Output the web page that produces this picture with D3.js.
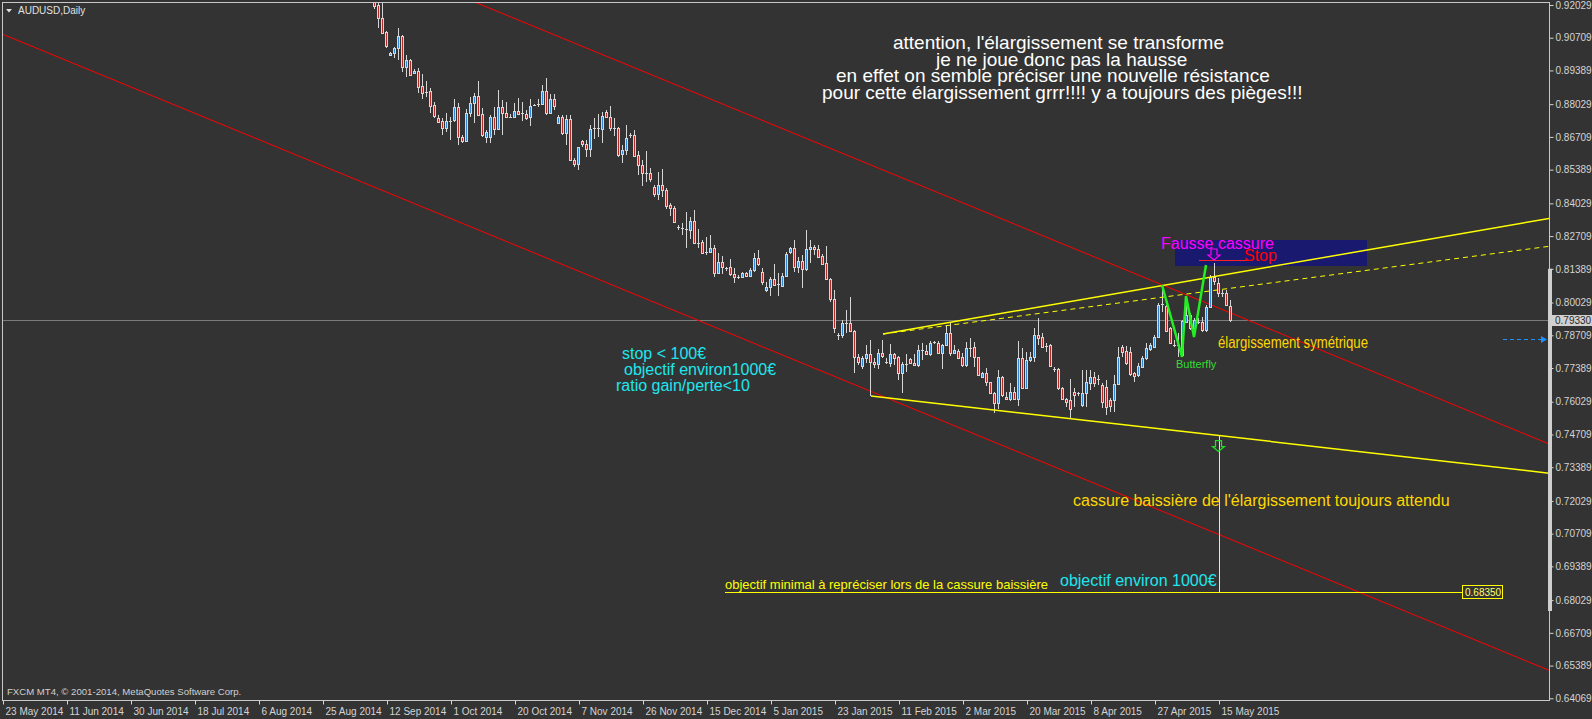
<!DOCTYPE html>
<html><head><meta charset="utf-8">
<script src="https://cdn.jsdelivr.net/npm/d3@7/dist/d3.min.js"></script>
<style>
html,body{margin:0;padding:0;background:#333333;overflow:hidden;}
svg{display:block;}
</style></head>
<body>
<svg id="chart" width="1592" height="719"></svg>
<script>
// ---------------- data ----------------
const symbolTitle = "AUDUSD,Daily";
const copyright = "FXCM MT4, \u00a9 2001-2014, MetaQuotes Software Corp.";
const firstBar = 93; // bar number of the first candle in the arrays (bar 0 = 23 May 2014)

const open = [.9215,.9203,.9151,.9094,.9001,.9009,.9029,.9078,.8953,.8981,
.8929,.8937,.8876,.8854,.8856,.8800,.8747,.8735,.8707,.8735,
.8739,.8792,.8671,.8655,.8767,.8808,.8836,.8763,.8671,.8671,
.8751,.8703,.8792,.8767,.8753,.8751,.8775,.8763,.8765,.8751,
.8796,.8802,.8804,.8856,.8767,.8824,.8727,.8751,.8687,.8743,
.8578,.8562,.8655,.8643,.8622,.8705,.8707,.8703,.8771,.8751,
.8707,.8707,.8602,.8618,.8679,.8679,.8598,.8558,.8527,.8525,
.8469,.8441,.8477,.8457,.8396,.8384,.8306,.8305,.8300,.8296,
.8332,.8243,.8247,.8207,.8207,.8223,.8122,.8167,.8144,.8146,
.8118,.8106,.8106,.8122,.8110,.8134,.8183,.8126,.8054,.8066,
.8098,.8078,.8070,.8110,.8207,.8223,.8146,.8171,.8138,.8219,
.8227,.8219,.8191,.8163,.8098,.8017,.7872,.7872,.7920,.7920,
.7890,.7783,.7747,.7779,.7795,.7763,.7755,.7799,.7765,.7760,
.7795,.7783,.7719,.7755,.7775,.7759,.7751,.7812,.7808,.7795,
.7844,.7840,.7799,.7832,.7880,.7799,.7808,.7783,.7751,.7820,
.7824,.7783,.7703,.7719,.7683,.7638,.7598,.7703,.7622,.7614,
.7642,.7614,.7779,.7658,.7771,.7783,.7872,.7864,.7828,.7832,
.7735,.7735,.7658,.7614,.7610,.7642,.7638,.7590,.7638,.7679,
.7703,.7691,.7670,.7662,.7610,.7610,.7675,.7824,.7808,.7803,
.7719,.7711,.7743,.7779,.7816,.7824,.7864,.7993,.7989,.7900,
.7832,.7832,.7791,.7925,.7953,.7900,.7925,.7925,.7892,.7985,
.8106,.8082,.8041,.8041,.7989];
const high = [.9240,.9215,.9211,.9098,.9013,.9033,.9110,.9082,.9001,.8985,
.8945,.8949,.8925,.8896,.8868,.8812,.8759,.8747,.8767,.8751,
.8824,.8808,.8679,.8784,.8832,.8848,.8896,.8788,.8699,.8759,
.8792,.8860,.8820,.8812,.8763,.8808,.8828,.8812,.8780,.8824,
.8804,.8824,.8880,.8908,.8844,.8844,.8759,.8759,.8759,.8759,
.8586,.8631,.8659,.8659,.8719,.8747,.8763,.8771,.8780,.8796,
.8747,.8711,.8638,.8719,.8687,.8699,.8614,.8578,.8614,.8545,
.8477,.8529,.8541,.8465,.8404,.8392,.8316,.8324,.8368,.8348,
.8376,.8300,.8255,.8267,.8275,.8235,.8203,.8191,.8146,.8179,
.8142,.8114,.8126,.8126,.8142,.8203,.8215,.8142,.8086,.8106,
.8159,.8122,.8122,.8207,.8227,.8255,.8187,.8195,.8296,.8255,
.8235,.8235,.8199,.8231,.8102,.8054,.7880,.7933,.7973,.8025,
.7892,.7795,.7787,.7832,.7852,.7779,.7816,.7852,.7779,.7836,
.7799,.7787,.7763,.7795,.7779,.7795,.7832,.7840,.7832,.7848,
.7848,.7848,.7836,.7913,.7921,.7832,.7816,.7799,.7844,.7860,
.7844,.7783,.7723,.7739,.7683,.7642,.7731,.7707,.7642,.7679,
.7662,.7848,.7820,.7803,.7803,.7900,.7941,.7880,.7840,.7836,
.7743,.7739,.7662,.7618,.7695,.7658,.7642,.7731,.7731,.7731,
.7723,.7711,.7679,.7691,.7618,.7711,.7824,.7832,.7828,.7824,
.7723,.7759,.7787,.7840,.7840,.7872,.8001,.8074,.7993,.7904,
.7852,.7880,.7933,.8029,.7961,.7941,.7941,.7945,.7993,.8114,
.8163,.8102,.8054,.8054,.8013];
const low = [.9187,.9110,.9086,.9029,.8997,.8989,.8981,.8933,.8913,.8917,
.8925,.8848,.8824,.8832,.8767,.8747,.8727,.8679,.8691,.8659,
.8731,.8638,.8647,.8655,.8751,.8727,.8759,.8671,.8647,.8647,
.8679,.8699,.8679,.8747,.8747,.8747,.8759,.8735,.8739,.8715,
.8796,.8792,.8800,.8759,.8763,.8780,.8723,.8679,.8638,.8574,
.8550,.8537,.8631,.8590,.8590,.8663,.8671,.8647,.8747,.8695,
.8675,.8590,.8566,.8598,.8667,.8590,.8517,.8473,.8489,.8489,
.8429,.8417,.8429,.8380,.8352,.8324,.8296,.8276,.8223,.8259,
.8239,.8223,.8203,.8195,.8203,.8106,.8122,.8118,.8130,.8110,
.8082,.8098,.8106,.8106,.8106,.8126,.8150,.8074,.8046,.8029,
.8070,.8029,.8066,.8106,.8199,.8126,.8122,.8062,.8130,.8163,
.8195,.8187,.8155,.8094,.8005,.7880,.7852,.7860,.7880,.7884,
.7719,.7751,.7735,.7759,.7626,.7739,.7735,.7779,.7755,.7743,
.7751,.7691,.7638,.7723,.7759,.7747,.7743,.7771,.7791,.7787,
.7836,.7795,.7735,.7828,.7787,.7799,.7779,.7743,.7743,.7783,
.7743,.7707,.7699,.7666,.7638,.7557,.7574,.7622,.7610,.7606,
.7610,.7586,.7654,.7654,.7763,.7763,.7832,.7820,.7803,.7743,
.7723,.7650,.7610,.7582,.7533,.7582,.7626,.7582,.7582,.7650,
.7662,.7670,.7578,.7549,.7562,.7562,.7670,.7783,.7751,.7707,
.7683,.7703,.7739,.7771,.7808,.7820,.7860,.7965,.7884,.7836,
.7824,.7783,.7783,.7921,.7892,.7864,.7917,.7884,.7884,.7985,
.8074,.8025,.8025,.7989,.7925];
const close = [.9199,.9151,.9090,.9038,.9009,.9029,.9078,.8953,.8981,.8921,
.8937,.8872,.8848,.8852,.8796,.8755,.8731,.8707,.8735,.8737,
.8792,.8671,.8655,.8767,.8808,.8836,.8759,.8679,.8691,.8751,
.8703,.8792,.8767,.8751,.8751,.8775,.8763,.8767,.8749,.8796,
.8800,.8801,.8856,.8767,.8824,.8796,.8751,.8687,.8743,.8578,
.8562,.8631,.8643,.8622,.8703,.8707,.8705,.8755,.8751,.8707,
.8705,.8598,.8618,.8667,.8677,.8594,.8558,.8525,.8525,.8501,
.8441,.8477,.8457,.8392,.8384,.8328,.8305,.8300,.8298,.8332,
.8243,.8245,.8203,.8205,.8223,.8122,.8167,.8146,.8142,.8118,
.8106,.8102,.8122,.8110,.8134,.8183,.8159,.8086,.8066,.8098,
.8074,.8077,.8110,.8199,.8223,.8146,.8171,.8138,.8219,.8227,
.8219,.8187,.8159,.8098,.8017,.7900,.7870,.7920,.7918,.7888,
.7783,.7763,.7779,.7795,.7763,.7755,.7799,.7787,.7763,.7795,
.7779,.7719,.7755,.7753,.7759,.7751,.7812,.7810,.7795,.7840,
.7843,.7799,.7832,.7880,.7799,.7812,.7779,.7751,.7820,.7818,
.7783,.7711,.7719,.7683,.7638,.7598,.7703,.7630,.7614,.7642,
.7614,.7779,.7658,.7771,.7783,.7872,.7860,.7824,.7826,.7747,
.7733,.7658,.7614,.7602,.7574,.7630,.7636,.7638,.7683,.7703,
.7679,.7695,.7602,.7582,.7586,.7675,.7783,.7803,.7759,.7715,
.7707,.7747,.7779,.7820,.7832,.7864,.7993,.7997,.7890,.7840,
.7830,.7828,.7929,.7953,.7900,.7933,.7923,.7892,.7985,.8106,
.8090,.8041,.8037,.7993,.7933];

const dateTickBars = [0,16,32,48,64,80,96,112,128,144,160,176,192,208,224,240,256,272,288,304];
const dateTickLabels = ["23 May 2014","11 Jun 2014","30 Jun 2014","18 Jul 2014","6 Aug 2014",
"25 Aug 2014","12 Sep 2014","1 Oct 2014","20 Oct 2014","7 Nov 2014","26 Nov 2014",
"15 Dec 2014","5 Jan 2015","23 Jan 2015","11 Feb 2015","2 Mar 2015","20 Mar 2015",
"8 Apr 2015","27 Apr 2015","15 May 2015"];
const priceTicks = [0.92029,0.90709,0.89389,0.88029,0.86709,0.85389,0.84029,0.82709,0.81389,
0.80029,0.78709,0.77389,0.76029,0.74709,0.73389,0.72029,0.70709,0.69389,0.68029,0.66709,0.65389,0.64069];
const lastPrice = 0.79330;

// drawn objects, as [bar, price] anchors
const channelUpper = [[118, 0.92142],[386, 0.74361]];
const channelLower = [[0, 0.90844],[386, 0.65231]];
const wedgeUpper = [[220, 0.78761],[386, 0.83407]];
const wedgeUpperDashed = [[220, 0.78761],[386, 0.82286]];
const wedgeLower = [[217, 0.76261],[386, 0.73159]];
const butterflyPts = [[289.75,0.80737],[294.75,0.77834],[295.75,0.80294],[297.75,0.78640],[300.75,0.81544]];
const targetPrice = 0.68350;
const targetBar = 304;
const targetLineBars = [180.5, 364.75];
const stopZone = [[293, 0.82552],[341, 0.81504]];
const stopLine = [[299, 0.81746],[311.75, 0.81746]];
const blueArrowLine = [[375, 0.7856],[386, 0.7856]];
const scaleBar = [0.81389, 0.6759];

// ---------------- drawing ----------------
const svg = d3.select("#chart");
const frame = {l:2, r:1549, t:2, b:700};
const x = d3.scaleLinear().domain([0, 386.5]).range([3, 1549]);
const y = d3.scaleLinear().domain([0.64069, 0.92029]).range([698.3, 5]);

const FONT = "'Liberation Sans', Arial, sans-serif";
const AXC = "#d4d4d4";

svg.append("rect").attr("width",1592).attr("height",719).attr("fill","#333333");

svg.append("defs").append("clipPath").attr("id","plot")
  .append("rect").attr("x",frame.l).attr("y",frame.t)
  .attr("width",frame.r-frame.l).attr("height",frame.b-frame.t);

const plot = svg.append("g").attr("clip-path","url(#plot)");

function lineAt(seg, bar){
  const [a,b] = seg;
  return a[1] + (b[1]-a[1])*(bar-a[0])/(b[0]-a[0]);
}
function ext(seg){ // extend to left/right of frame
  const b0 = x.invert(frame.l-5), b1 = x.invert(frame.r+5);
  return [[b0, lineAt(seg,b0)],[b1, lineAt(seg,b1)]];
}
const ln = d3.line().x(d=>x(d[0])).y(d=>y(d[1]));

// last price line
plot.append("line").attr("x1",frame.l).attr("x2",frame.r)
  .attr("y1",Math.round(y(lastPrice))+0.5).attr("y2",Math.round(y(lastPrice))+0.5)
  .attr("stroke","#7a7a7a").attr("stroke-width",1);

// stop zone rectangle
plot.append("rect").attr("x",x(stopZone[0][0])).attr("y",y(stopZone[0][1]))
  .attr("width",x(stopZone[1][0])-x(stopZone[0][0]))
  .attr("height",y(stopZone[1][1])-y(stopZone[0][1]))
  .attr("fill","#191970");

// channel lines (red)
plot.append("path").attr("d",ln(ext(channelUpper))).attr("stroke","#ff0000").attr("stroke-width",1).attr("fill","none");
const lowerStart = [[x.invert(frame.l), lineAt(channelLower, x.invert(frame.l))], ext(channelLower)[1]];
plot.append("path").attr("d",ln(lowerStart)).attr("stroke","#ff0000").attr("stroke-width",1).attr("fill","none");

// candles
const candles = plot.append("g").attr("shape-rendering","crispEdges");
const BULL = "#2f86d4", BEAR = "#b22a2a", EDGE = "#d6d6d6";
for (let k=0;k<open.length;k++){
  const bar = firstBar + k;
  const cx = Math.round(x(bar)) - 1;
  const yh = Math.round(y(high[k])), yl = Math.round(y(low[k]));
  candles.append("rect").attr("x",cx).attr("y",yh).attr("width",1).attr("height",Math.max(1,yl-yh)).attr("fill",EDGE);
  const yo = y(open[k]), yc = y(close[k]);
  const top = Math.round(Math.min(yo,yc)), bot = Math.round(Math.max(yo,yc));
  if (bot - top < 2){
    candles.append("rect").attr("x",cx-1).attr("y",top).attr("width",3).attr("height",Math.max(1,bot-top)).attr("fill",EDGE);
  } else {
    candles.append("rect").attr("x",cx-1).attr("y",top).attr("width",3).attr("height",bot-top+1).attr("fill",EDGE);
    candles.append("rect").attr("x",cx).attr("y",top+1).attr("width",1).attr("height",bot-top-1)
      .attr("fill", close[k] > open[k] ? BULL : BEAR);
  }
}

// wedge (yellow)
const wu0 = wedgeUpper[0];
plot.append("path").attr("d",ln([wu0, ext(wedgeUpper)[1]])).attr("stroke","#ffff00").attr("stroke-width",1.5).attr("fill","none");
plot.append("path").attr("d",ln([wedgeUpperDashed[0], ext(wedgeUpperDashed)[1]])).attr("stroke","#ffff00")
  .attr("stroke-width",1).attr("stroke-dasharray","5,4").attr("fill","none");
plot.append("path").attr("d",ln([wedgeLower[0], ext(wedgeLower)[1]])).attr("stroke","#ffff00").attr("stroke-width",1.5).attr("fill","none");

// target projection
const tTop = lineAt(wedgeLower, targetBar);
plot.append("line").attr("x1",Math.round(x(targetBar))+0.5).attr("x2",Math.round(x(targetBar))+0.5)
  .attr("y1",y(tTop)).attr("y2",y(targetPrice)).attr("stroke","#ffff00").attr("stroke-width",1);
plot.append("line").attr("x1",x(targetLineBars[0])).attr("x2",x(targetLineBars[1]))
  .attr("y1",Math.round(y(targetPrice))+0.5).attr("y2",Math.round(y(targetPrice))+0.5)
  .attr("stroke","#ffff00").attr("stroke-width",1);
// target label box
const tbx = x(targetLineBars[1]), tby = Math.round(y(targetPrice));
plot.append("rect").attr("x",tbx+0.5).attr("y",tby-6.5).attr("width",40).attr("height",13)
  .attr("fill","#333333").attr("stroke","#ffff00").attr("stroke-width",1);
plot.append("text").attr("x",tbx+3).attr("y",tby+4).text(targetPrice.toFixed(5))
  .attr("fill","#ffff66").attr("font-family",FONT).attr("font-size",10);

// hollow arrow helper
function hollowArrow(cx, top, color){
  const p = `M${cx-3},${top} H${cx+3} V${top+6} H${cx+6} L${cx},${top+11} L${cx-6},${top+6} H${cx-3} Z`;
  plot.append("path").attr("d",p).attr("fill","none").attr("stroke",color).attr("stroke-width",1.2);
}
hollowArrow(x(targetBar)-0.5, y(tTop)+5, "#22dd22");

// butterfly zigzag
plot.append("path").attr("d",ln(butterflyPts)).attr("stroke","#22ee22").attr("stroke-width",2.5)
  .attr("fill","none").attr("stroke-linejoin","miter");

// stop line and arrow
plot.append("line").attr("x1",x(stopLine[0][0])).attr("x2",x(stopLine[1][0]))
  .attr("y1",Math.round(y(stopLine[0][1]))+0.5).attr("y2",Math.round(y(stopLine[0][1]))+0.5)
  .attr("stroke","#ff2020").attr("stroke-width",1);
hollowArrow(1214, y(stopLine[0][1])-11, "#ff00ff");

// blue dashed arrow
const ba0 = x(blueArrowLine[0][0]), ba1 = x(blueArrowLine[1][0]), bay = Math.round(y(blueArrowLine[0][1]))+0.5;
plot.append("line").attr("x1",ba0).attr("x2",ba1-5).attr("y1",bay).attr("y2",bay)
  .attr("stroke","#1e90ff").attr("stroke-width",1).attr("stroke-dasharray","4,3");
plot.append("path").attr("d",`M${ba1-6},${bay-3.5} L${ba1},${bay} L${ba1-6},${bay+3.5} Z`).attr("fill","#1e90ff");

// ---------- texts ----------
function txt(s, xx, yy, color, size, family){
  return svg.append("text").attr("x",xx).attr("y",yy).text(s).attr("fill",color)
    .attr("font-family",family||FONT).attr("font-size",size);
}
const note = [
  ["attention, l'\u00e9largissement se transforme", 893, 49],
  ["je ne joue donc pas la hausse", 936, 66],
  ["en effet on semble pr\u00e9ciser une nouvelle r\u00e9sistance", 836, 82],
  ["pour cette \u00e9largissement grrr!!!! y a toujours des pi\u00e8ges!!!", 822, 99]
];
note.forEach(n=>txt(n[0], n[1], n[2], "#ffffff", 19));

txt("stop < 100\u20ac", 622, 359, "#1ee6ee", 16);
txt("objectif environ1000\u20ac", 624, 375, "#1ee6ee", 16);
txt("ratio gain/perte<10", 616, 391, "#1ee6ee", 16);

txt("Fausse cassure", 1161, 249, "#ff00ff", 16);
txt("Stop", 1244, 261, "#ff0000", 16);
txt("Butterfly", 1176, 368, "#33dd33", 11);
txt("\u00e9largissement sym\u00e9trique", 1218, 348, "#ffd700", 16,
    "'Liberation Sans Narrow', 'Arial Narrow', 'Liberation Sans', sans-serif")
  .attr("textLength",150).attr("lengthAdjust","spacingAndGlyphs");
txt("cassure baissi\u00e8re de l'\u00e9largissement toujours attendu", 1073, 506, "#ffd700", 16);
txt("objectif minimal \u00e0 repr\u00e9ciser lors de la cassure baissi\u00e8re", 725, 589, "#ffff00", 13);
txt("objectif environ 1000\u20ac", 1060, 586, "#1ee6ee", 16);

// ---------- frame & axes ----------
svg.append("rect").attr("x",frame.l+0.5).attr("y",frame.t+0.5)
  .attr("width",frame.r-frame.l).attr("height",frame.b-frame.t)
  .attr("fill","none").attr("stroke","#c8c8c8").attr("stroke-width",1);

// scale bar on right edge
svg.append("rect").attr("x",frame.r-1).attr("y",y(scaleBar[0])).attr("width",4)
  .attr("height",y(scaleBar[1])-y(scaleBar[0])).attr("fill","#cfcfcf");

const yAxis = d3.axisRight(y).tickValues(priceTicks).tickSize(4).tickFormat(d=>d.toFixed(5));
const gy = svg.append("g").attr("transform",`translate(${frame.r+0.5},0)`).call(yAxis);
gy.select(".domain").remove();
gy.selectAll("line").attr("stroke",AXC);
gy.selectAll("text").attr("fill",AXC).attr("font-family",FONT).attr("font-size",10).attr("x",6);

// last price box
const lpy = Math.round(y(lastPrice));
svg.append("rect").attr("x",frame.r+1).attr("y",lpy-5).attr("width",1592-frame.r-1).attr("height",11).attr("fill","#d0d0d0");
svg.append("text").attr("x",frame.r+6).attr("y",lpy+4).text(lastPrice.toFixed(5))
  .attr("fill","#2a2a2a").attr("font-family",FONT).attr("font-size",10);

const xAxis = d3.axisBottom(x).tickValues(dateTickBars).tickSize(4).tickFormat((d,i)=>dateTickLabels[i]);
const gx = svg.append("g").attr("transform",`translate(0,${frame.b+0.5})`).call(xAxis);
gx.select(".domain").remove();
gx.selectAll("line").attr("stroke",AXC);
gx.selectAll("text").attr("fill",AXC).attr("font-family",FONT).attr("font-size",10)
  .attr("text-anchor","start").attr("x",2);

// title
svg.append("path").attr("d","M6,9 L12,9 L9,12.5 Z").attr("fill","#e0e0e0");
txt(symbolTitle, 18, 14, "#e0e0e0", 10);
txt(copyright, 7, 695, "#d0d0d0", 9.6);
</script>
</body></html>
